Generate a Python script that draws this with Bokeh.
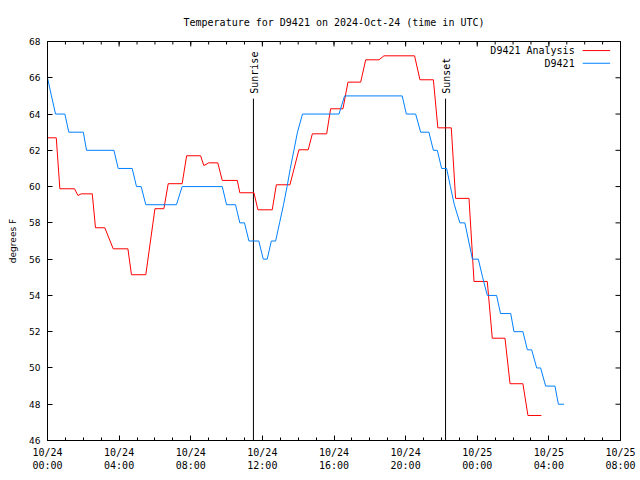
from math import pi
from bokeh.plotting import figure
from bokeh.models import LinearAxis, FixedTicker, Range1d
from bokeh.embed import file_html
from bokeh.resources import INLINE
from bokeh.core.properties import value

# ---------------- data (hours since 2024-10-24 00:00 UTC) ----------------
obs_hours = [0.0, 0.22, 0.45, 0.97, 1.19, 2.0, 2.18, 3.71, 3.95, 4.73, 4.97, 5.23, 5.49,
             7.2, 7.52, 9.76, 10.0, 10.5, 10.74, 11.0, 11.25, 11.8, 12.05, 12.27, 12.5,
             12.74, 12.96, 13.18, 13.38, 13.56, 13.76, 13.96, 14.24, 16.28, 16.59,
             19.81, 20.04, 20.56, 20.84, 21.3, 21.55, 21.77, 22.01, 22.29, 22.5, 22.72,
             23.03, 23.31, 23.52, 23.73, 24.06, 24.3, 24.56, 25.08, 25.3, 25.87, 26.05,
             26.55, 26.8, 27.04, 27.32, 27.54, 27.82, 28.34, 28.53, 28.85]
obs_temp = [66, 65, 64, 64, 63, 63, 62, 62, 61, 61, 60, 60, 59,
            59, 60, 60, 59, 59, 58, 58, 57, 57, 56, 56, 57,
            57, 58, 59, 60, 61, 62, 63, 64, 64, 65,
            65, 64, 64, 63, 63, 62, 62, 61, 61, 60, 59,
            58, 58, 57, 56, 56, 55, 54, 54, 53, 53, 52,
            52, 51, 51, 50, 50, 49, 49, 48, 48]

ana_hours = [0.0, 0.49, 0.69, 1.51, 1.7, 1.88, 2.5, 2.68, 3.2, 3.67, 4.49, 4.69, 5.49,
             6.0, 6.5, 6.74, 7.52, 7.77, 8.55, 8.73, 9.01, 9.51, 9.76, 10.6, 10.74,
             11.53, 11.75, 12.55, 12.78, 13.54, 14.04, 14.56, 14.79, 15.59, 15.81,
             16.5, 16.78, 17.49, 17.77, 18.51, 18.79, 20.5, 20.8, 21.55, 21.8, 22.55,
             22.79, 23.54, 23.82, 24.56, 24.84, 25.55, 25.83, 26.55, 26.83, 27.58]
ana_temp = [62.69, 62.69, 59.88, 59.88, 59.51, 59.6, 59.6, 57.73, 57.73, 56.57, 56.57, 55.14, 55.14,
            58.78, 58.78, 60.16, 60.16, 61.7, 61.7, 61.16, 61.31, 61.31, 60.34, 60.34, 59.66,
            59.66, 58.72, 58.72, 60.1, 60.1, 62.03, 62.03, 62.91, 62.91, 64.29,
            64.29, 65.76, 65.76, 66.99, 66.99, 67.21, 67.21, 65.89, 65.89, 63.24, 63.24,
            59.35, 59.35, 54.77, 54.77, 51.64, 51.64, 49.13, 49.13, 47.38, 47.38]

sun_names = ["Sunrise", "Sunset"]
sun_hours = [11.5, 22.23]

series_names = ["D9421 Analysis", "D9421"]
series_colors = ["#ff0000", "#0080ff"]

x_ticks = [0, 4, 8, 12, 16, 20, 24, 28, 32]
x_tick_labels = ["10/24\n00:00", "10/24\n04:00", "10/24\n08:00", "10/24\n12:00",
                 "10/24\n16:00", "10/24\n20:00", "10/25\n00:00", "10/25\n04:00",
                 "10/25\n08:00"]
x_minor = list(range(0, 33))
y_ticks = list(range(46, 69, 2))

title = "Temperature for D9421 on 2024-Oct-24 (time in UTC)"
MONO = "DejaVu Sans Mono"
X0, X1, Y0, Y1 = 0, 32, 46, 68

# ---------------- figure ----------------
p = figure(width=640, height=480, output_backend="svg", toolbar_location=None,
           x_range=Range1d(X0, X1), y_range=Range1d(Y0, Y1),
           min_border_left=47, min_border_right=20, min_border_top=41,
           min_border_bottom=40, background_fill_color="white",
           border_fill_color="white", x_axis_type=None, y_axis_type=None)
p.outline_line_color = "black"
p.outline_line_width = 1
p.title.text = title
p.title.align = "center"
p.title.text_color = "black"
p.title.text_font = MONO
p.title.text_font_size = "10px"
p.title.text_font_style = "normal"
p.title.offset = 0
p.title.standoff = 28

def style_axis(ax):
    ax.axis_line_color = "black"
    ax.major_tick_in = 5
    ax.major_tick_out = 0
    ax.minor_tick_in = 3
    ax.minor_tick_out = 0
    ax.major_tick_line_color = "black"
    ax.minor_tick_line_color = "black"
    ax.major_label_text_color = "black"
    ax.major_label_text_font = MONO
    ax.major_label_text_font_size = "10px"

xb = LinearAxis(ticker=FixedTicker(ticks=x_ticks, minor_ticks=x_minor))
style_axis(xb)
xb.major_label_overrides = {t: lab for t, lab in zip(x_ticks, x_tick_labels)}
xb.major_label_standoff = 6
p.add_layout(xb, "below")

yl = LinearAxis(ticker=FixedTicker(ticks=y_ticks, minor_ticks=[]))
style_axis(yl)
yl.major_label_text_font = "DejaVu Sans"
yl.major_label_text_font_size = "9px"
yl.major_label_standoff = 7
yl.axis_label = "degrees F"
yl.axis_label_text_color = "black"
yl.axis_label_text_font = "DejaVu Sans"
yl.axis_label_text_font_size = "9px"
yl.axis_label_text_font_style = "normal"
yl.axis_label_standoff = 8
p.add_layout(yl, "left")

p.xgrid.visible = False
p.ygrid.visible = False

# mirrored tick marks on the top and right frame edges (half of each dash is clipped)
p.scatter(x=x_ticks, y=[Y1] * len(x_ticks), marker="dash", angle=pi / 2, size=10,
          line_color="black", line_width=1)
p.scatter(x=x_minor, y=[Y1] * len(x_minor), marker="dash", angle=pi / 2, size=6,
          line_color="black", line_width=1)
p.scatter(x=[X1] * len(y_ticks), y=y_ticks, marker="dash", size=10,
          line_color="black", line_width=1)

# sunrise / sunset markers
marker_top = 64.85
p.segment(x0=sun_hours, y0=[marker_top] * 2, x1=sun_hours, y1=[Y0] * 2,
          line_color="black", line_width=1)
p.text(x=sun_hours, y=[marker_top + 0.27] * 2, text=sun_names, angle=pi / 2,
       text_align="left", text_baseline="middle", x_offset=1,
       text_font=value(MONO), text_font_size="10px", text_color="black")

# data lines
p.line(ana_hours, ana_temp, line_color=series_colors[0], line_width=1)
p.line(obs_hours, obs_temp, line_color=series_colors[1], line_width=1)

# gnuplot-style key (text left of sample, right aligned)
key_text_x = 29.44
key_line_x0, key_line_x1 = 29.89, 31.42
key_rows = [67.5, 66.8]
p.text(x=[key_text_x] * 2, y=key_rows, text=series_names, text_align="right",
       text_baseline="middle", text_font=value(MONO), text_font_size="10px",
       text_color="black")
p.segment(x0=[key_line_x0] * 2, y0=key_rows, x1=[key_line_x1] * 2, y1=key_rows,
          line_color=series_colors, line_width=1)

open("out.html", "w").write(file_html(p, INLINE))
